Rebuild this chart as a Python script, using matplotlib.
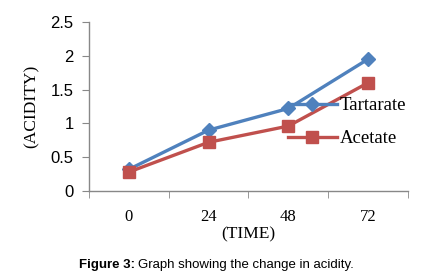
import matplotlib
matplotlib.use("Agg")
import matplotlib.pyplot as plt
from matplotlib.ticker import FixedLocator

# data
time_labels = ["0", "24", "48", "72"]
tartarate = [0.32, 0.90, 1.22, 1.95]
acetate = [0.28, 0.72, 0.96, 1.60]

blue = "#4F81BD"
red = "#C0504D"

fig = plt.figure(figsize=(4.34, 2.74), dpi=100)
ax = fig.add_axes([0.205, 0.303, 0.735, 0.617])

x = list(range(len(time_labels)))
ax.plot(x, tartarate, color=blue, lw=2.4, marker="D", ms=7.5, label="Tartarate")
ax.plot(x, acetate, color=red, lw=2.4, marker="s", ms=9, label="Acetate")

ax.set_xlim(-0.5, len(x) - 0.5)
ax.set_ylim(0, 2.5)
ax.set_yticks([0, 0.5, 1, 1.5, 2, 2.5])
ax.set_yticklabels(["0", "0.5", "1", "1.5", "2", "2.5"],
                   fontfamily="Liberation Sans", fontsize=12)
ax.set_xticks(x)
ax.set_xticklabels(time_labels, fontfamily="Liberation Serif", fontsize=12)
ax.xaxis.set_minor_locator(FixedLocator([i - 0.5 for i in range(len(x) + 1)]))
ax.tick_params(axis="x", which="major", length=0, pad=13)
ax.tick_params(axis="x", which="minor", length=5, color="#888888", direction="out")
ax.tick_params(axis="y", length=5, color="#888888", direction="out", pad=6)

for s in ["top", "right"]:
    ax.spines[s].set_visible(False)
for s in ["left", "bottom"]:
    ax.spines[s].set_color("#888888")
    ax.spines[s].set_linewidth(1)

ax.set_xlabel("(TIME)", fontfamily="Liberation Serif", fontsize=12.5, labelpad=1)
ax.set_ylabel("(ACIDITY)", fontfamily="Liberation Serif", fontsize=12.5, labelpad=8)

leg = ax.legend(loc="upper left", bbox_to_anchor=(0.60, 0.60), frameon=False,
                prop={"family": "Liberation Serif", "size": 13.5},
                handlelength=2.6, handletextpad=0.15, labelspacing=0.85,
                borderaxespad=0)

fig.text(0.311, 0.033, "Figure 3:", ha="right", va="center",
         fontfamily="Liberation Sans", fontweight="bold", fontsize=9.5)
fig.text(0.318, 0.033, "Graph showing the change in acidity.", ha="left", va="center",
         fontfamily="Liberation Sans", fontsize=9.5)

fig.savefig("out.png", dpi=100)
